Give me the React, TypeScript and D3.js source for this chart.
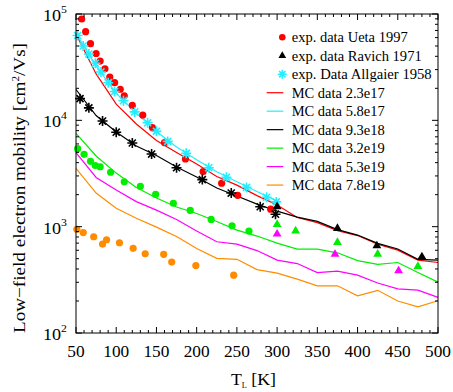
import * as d3 from "d3";

// temperatures of the Monte Carlo runs [K]
const mcT = [50, 75, 100, 125, 150, 175, 200, 225, 250, 275, 300, 325, 350, 375, 400, 425, 450, 475, 500];

// MC mobility [cm^2/Vs] per doping
const mc23e17 = [64800, 27300, 14200, 9230, 6460, 4980, 3880, 2960, 2460, 1960, 1600, 1220, 1090, 919, 825, 686, 602, 485, 460];
const mc58e17 = [65800, 32400, 17900, 11700, 7840, 5610, 4260, 3290, 2640, 2140, 1740];
const mc93e18 = [19500, 11100, 7760, 5730, 4670, 3640, 2930, 2310, 1940, 1630, 1400, 1230, 1120, 939, 834, 696, 616, 493, 485];
const mc32e19 = [7550, 4620, 3190, 2330, 1860, 1530, 1330, 1120, 929, 816, 701, 616, 616, 568, 480, 442, 460, 370, 301];
const mc53e19 = [4960, 2900, 2210, 1720, 1430, 1170, 909, 721, 686, 596, 485, 450, 370, 382, 350, 295, 260, 253, 216];
const mc78e19 = [3530, 2070, 1490, 1200, 991, 807, 622, 503, 493, 395, 366, 321, 278, 278, 224, 252, 200, 176, 201];

// experiments
const uetaT = [57, 62, 68, 75, 80, 86, 92, 98, 105, 110, 120, 133, 145, 160, 186, 208, 231, 251, 292];
const uetaMu = [89700, 68200, 52600, 42500, 36100, 30500, 25500, 22600, 19600, 17000, 13800, 11200, 8560, 6180, 4330, 3300, 2560, 1970, 1460];

const allgT = [52, 59, 66, 74, 81, 90, 98, 109, 123, 139, 150, 164, 187, 215, 237, 262, 287, 299];
const allgMu = [62800, 50000, 42000, 34400, 28500, 22600, 18700, 15300, 12000, 9490, 7880, 6340, 4890, 3580, 2910, 2340, 1890, 1710];

const allgBlackT = [55, 66, 83, 100, 120, 144, 175, 207, 243, 279, 298];
const allgBlackMu = [16000, 13100, 9850, 7730, 6120, 4820, 3580, 2770, 2070, 1540, 1310];

const ravichT = [300, 375, 424, 480];
const ravichMu = [1540, 964, 661, 521];
const ravichGreenT = [300, 323, 375, 425, 475];
const ravichGreenMu = [1050, 913, 712, 552, 423];
const ravichMagT = [300, 372, 451];
const ravichMagMu = [852, 550, 385];

const greenDotT = [52, 60, 68, 74, 80, 93, 110, 130, 149, 171, 192, 218, 244, 265];
const greenDotMu = [5410, 4790, 4120, 3760, 3660, 3250, 2640, 2400, 2010, 1660, 1420, 1170, 1020, 909];
const orangeDotT = [51, 59, 72, 83, 88, 104, 121, 136, 159, 169, 199, 246];
const orangeDotMu = [945, 880, 804, 686, 753, 706, 625, 556, 549, 465, 431, 350];

const xTicks = [50, 100, 150, 200, 250, 300, 350, 400, 450, 500];
const yDecades = [2, 3, 4, 5];

const RED = "#ff0000";
const CYAN = "#22eeff";
const GREEN = "#00ee00";
const MAGENTA = "#ff00ff";
const ORANGE = "#ff8c00";

const mcSeries = [
  { label: "MC data 2.3e17", color: RED, mu: mc23e17 },
  { label: "MC data 5.8e17", color: CYAN, mu: mc58e17 },
  { label: "MC data 9.3e18", color: "#000", mu: mc93e18 },
  { label: "MC data 3.2e19", color: GREEN, mu: mc32e19 },
  { label: "MC data 5.3e19", color: MAGENTA, mu: mc53e19 },
  { label: "MC data 7.8e19", color: ORANGE, mu: mc78e19 },
];

const font = "'Liberation Serif', 'Times New Roman', 'DejaVu Serif', serif";

function Star({ cx, cy, color, r = 5 }: { cx: number; cy: number; color: string; r?: number }) {
  const d = r * Math.SQRT1_2;
  return (
    <path
      d={`M${cx - r},${cy}H${cx + r}M${cx},${cy - r}V${cy + r}M${cx - d},${cy - d}L${cx + d},${cy + d}M${cx - d},${cy + d}L${cx + d},${cy - d}`}
      stroke={color}
      strokeWidth={1.6}
    />
  );
}

const tri = d3.symbol(d3.symbolTriangle, 34);

export default function App() {
  const width = 453;
  const height = 392;
  const left = 76, right = 438, top = 14, bottom = 333;

  const x = d3.scaleLinear([50, 500], [left, right]);
  const y = d3.scaleLog([100, 100000], [bottom, top]);

  const line = d3.line<[number, number]>()
    .x((d) => x(d[0]))
    .y((d) => y(d[1]));

  const xMinor = d3.range(50, 501, 10);
  const yMinor: number[] = [];
  for (let e = 2; e < 5; e++) for (let k = 2; k <= 9; k++) yMinor.push(k * 10 ** e);

  const legendY = (i: number) => 37.3 + i * 18.47;
  const tx = 291.7;
  const fit = { lengthAdjust: "spacingAndGlyphs" } as const;

  return (
    <svg width={width} height={height} style={{ position: "fixed", left: 0, top: 0, background: "#fff", fontFamily: font }}>
      {/* MC lines */}
      <g fill="none" strokeWidth={1.2}>
        {mcSeries.map((s) => (
          <path key={s.label} stroke={s.color} d={line(s.mu.map((m, i) => [mcT[i], m] as [number, number])) ?? undefined} />
        ))}
      </g>

      {/* experimental points */}
      <g fill={ORANGE}>
        {orangeDotT.map((t, i) => <circle key={i} cx={x(t)} cy={y(orangeDotMu[i])} r={3.6} />)}
      </g>
      <g fill={GREEN}>
        {greenDotT.map((t, i) => <circle key={i} cx={x(t)} cy={y(greenDotMu[i])} r={3.6} />)}
      </g>
      <g fill={RED}>
        {uetaT.map((t, i) => <circle key={i} cx={x(t)} cy={y(uetaMu[i])} r={3.6} />)}
      </g>
      {allgBlackT.map((t, i) => <Star key={i} cx={x(t)} cy={y(allgBlackMu[i])} color="#000" />)}
      {allgT.map((t, i) => <Star key={i} cx={x(t)} cy={y(allgMu[i])} color={CYAN} />)}
      {ravichT.map((t, i) => (
        <path key={i} d={tri() ?? ""} transform={`translate(${x(t)},${y(ravichMu[i])})`} fill="#000" />
      ))}
      {ravichGreenT.map((t, i) => (
        <path key={i} d={tri() ?? ""} transform={`translate(${x(t)},${y(ravichGreenMu[i])})`} fill={GREEN} />
      ))}
      {ravichMagT.map((t, i) => (
        <path key={i} d={tri() ?? ""} transform={`translate(${x(t)},${y(ravichMagMu[i])})`} fill={MAGENTA} />
      ))}

      {/* frame and ticks */}
      <rect x={left} y={top} width={right - left} height={bottom - top} fill="none" stroke="#000" strokeWidth={1} />
      <g stroke="#000" strokeWidth={1}>
        {xMinor.map((t) => {
          const len = t % 50 === 0 ? 6 : 3;
          return (
            <g key={t}>
              <line x1={x(t)} x2={x(t)} y1={bottom} y2={bottom - len} />
              <line x1={x(t)} x2={x(t)} y1={top} y2={top + len} />
            </g>
          );
        })}
        {yMinor.map((v) => (
          <g key={v}>
            <line x1={left} x2={left + 3} y1={y(v)} y2={y(v)} />
            <line x1={right} x2={right - 3} y1={y(v)} y2={y(v)} />
          </g>
        ))}
        {yDecades.map((e) => (
          <g key={e}>
            <line x1={left} x2={left + 6} y1={y(10 ** e)} y2={y(10 ** e)} />
            <line x1={right} x2={right - 6} y1={y(10 ** e)} y2={y(10 ** e)} />
          </g>
        ))}
      </g>

      {/* tick labels */}
      <g fontSize={17.3} textAnchor="middle">
        {xTicks.map((t) => (
          <text key={t} x={x(t)} y={bottom + 24} textLength={String(t).length * 8.65} {...fit}>{t}</text>
        ))}
      </g>
      <g fontSize={17} textAnchor="end">
        {yDecades.map((e) => (
          <text key={e} x={left - 9} y={y(10 ** e) + 7} textLength={24} {...fit}>
            10<tspan dy={-8} fontSize={11}>{e}</tspan>
          </text>
        ))}
      </g>

      {/* axis titles */}
      <text x={253.5} y={385} fontSize={17} textAnchor="middle" textLength={45} {...fit}>
        T<tspan dy={3} fontSize={8}>L</tspan><tspan dy={-3}> [K]</tspan>
      </text>
      <text transform={`translate(25,188) rotate(-90)`} fontSize={17} textAnchor="middle" textLength={290} {...fit}>
        Low−field electron mobility [cm<tspan dy={-6} fontSize={10}>2</tspan><tspan dy={6}>/Vs]</tspan>
      </text>

      {/* legend */}
      <g fontSize={14.5}>
        <circle cx={282.3} cy={legendY(0)} r={3.3} fill={RED} />
        <text x={tx} y={legendY(0) + 5} textLength={116} {...fit}>exp. data Ueta 1997</text>
        <path d={d3.symbol(d3.symbolTriangle, 26)() ?? ""} transform={`translate(282.3,${legendY(1)})`} fill="#000" />
        <text x={tx} y={legendY(1) + 5} textLength={130} {...fit}>exp. data Ravich 1971</text>
        <Star cx={282.3} cy={legendY(2)} color={CYAN} r={4.5} />
        <text x={tx} y={legendY(2) + 5} textLength={140} {...fit}>exp. Data Allgaier 1958</text>
        {mcSeries.map((s, i) => (
          <g key={s.label}>
            <line x1={266.7} x2={283.3} y1={legendY(i + 3)} y2={legendY(i + 3)} stroke={s.color} strokeWidth={1.2} />
            <text x={tx} y={legendY(i + 3) + 5} textLength={93} {...fit}>{s.label}</text>
          </g>
        ))}
      </g>
    </svg>
  );
}
